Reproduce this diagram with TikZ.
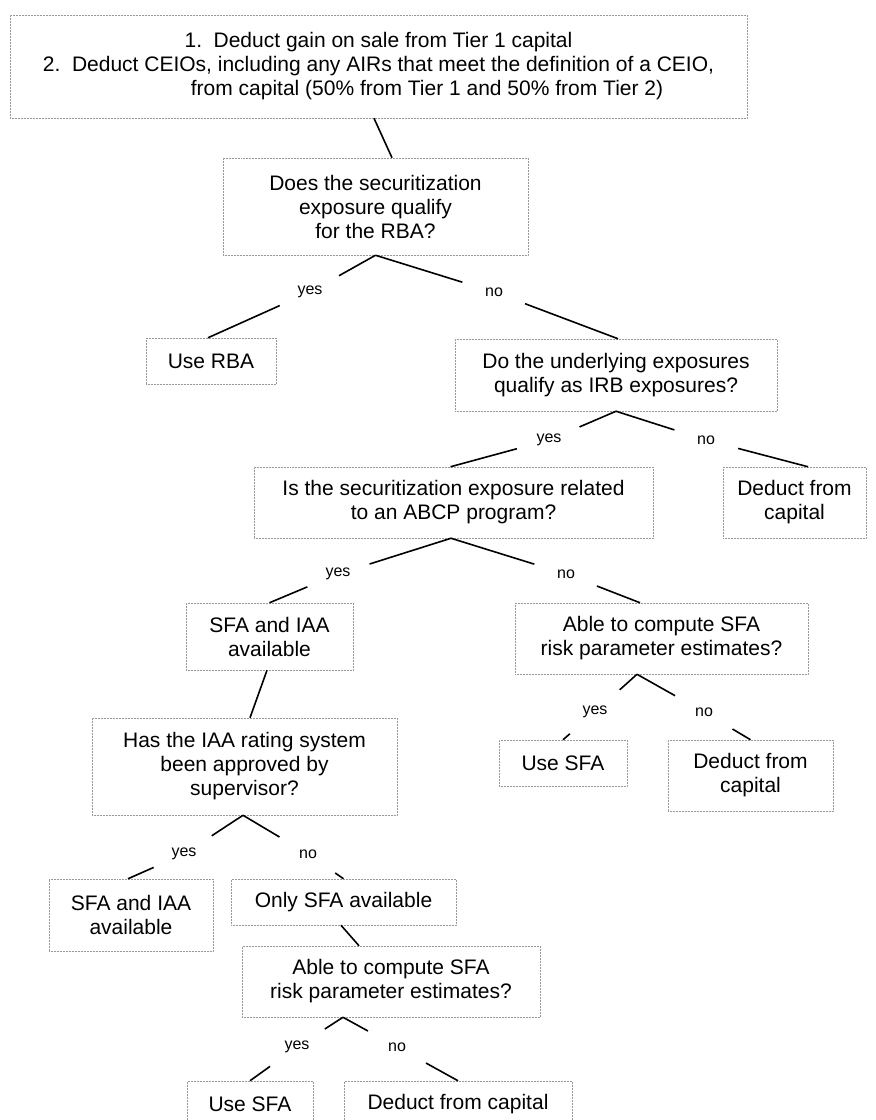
\documentclass[tikz,border=0pt]{standalone}
\usepackage{fontspec}
\setmainfont{Liberation Sans}
\usepackage{xcolor}

\begin{document}
\begin{tikzpicture}[x=1pt,y=-1pt,
	box/.style={draw=gray!80, densely dotted, line width=0.5pt, align=center, inner sep=0pt, font=\fontsize{21}{24}\selectfont},
	ans/.style={circle, minimum size=66pt, inner sep=0pt, font=\fontsize{16}{18}\selectfont},
	link/.style={line width=1.6pt}]
	\useasboundingbox (0,0) rectangle (876,1120);
	
	% boxes
	\node[box, minimum width=737pt, minimum height=103pt] (A) at (378.5,66.5) {1.\hspace{0.55em}Deduct gain on sale from Tier 1 capital\\ 2.\hspace{0.55em}Deduct CEIOs, including any AIRs that meet the definition of a CEIO,\\ \hspace*{97pt}from capital (50\% from Tier 1 and 50\% from Tier 2)};
	\node[box, minimum width=305pt, minimum height=97pt] (B) at (375.5,206.5) {Does the securitization\\ exposure qualify\\ for the RBA?};
	\node[box, minimum width=130pt, minimum height=46pt] (C) at (211,361) {Use RBA};
	\node[box, minimum width=322pt, minimum height=72pt] (D) at (616,375) {Do the underlying exposures\\ qualify as IRB exposures?};
	\node[box, minimum width=399pt, minimum height=71pt] (E) at (453.5,502.5) {Is the securitization exposure related\\ to an ABCP program?};
	\node[box, minimum width=143pt, minimum height=71pt] (F) at (794.5,502.5) {Deduct from\\ capital};
	\node[box, minimum width=167pt, minimum height=67pt] (G) at (269.5,636.5) {SFA and IAA\\ available};
	\node[box, minimum width=293pt, minimum height=71pt] (H) at (661.5,638.5) {Able to compute SFA\\ risk parameter estimates?};
	\node[box, minimum width=128pt, minimum height=46pt] (I) at (563,763) {Use SFA};
	\node[box, minimum width=165pt, minimum height=71pt] (J) at (750.5,775.5) {Deduct from\\ capital};
	\node[box, minimum width=305pt, minimum height=97pt] (K) at (244.5,766.5) {Has the IAA rating system\\ been approved by\\ supervisor?};
	\node[box, minimum width=164pt, minimum height=72pt] (L) at (131,915) {SFA and IAA\\ available};
	\node[box, minimum width=225pt, minimum height=46pt] (M) at (343.5,902) {Only SFA available};
	\node[box, minimum width=298pt, minimum height=71pt] (N) at (391,981.5) {Able to compute SFA\\ risk parameter estimates?};
	\node[box, minimum width=126pt, minimum height=46pt] (O) at (250,1104) {Use SFA};
	\node[box, minimum width=228pt, minimum height=46pt] (P) at (458,1104) {Deduct from capital};
	
	% answers
	\node[ans] (Y1) at (310,292) {yes};
	\node[ans] (N1) at (494,292) {no};
	\node[ans] (Y2) at (549,440) {yes};
	\node[ans] (N2) at (706,440) {no};
	\node[ans] (Y3) at (338,574) {yes};
	\node[ans] (N3) at (566,574) {no};
	\node[ans] (Y4) at (595,712) {yes};
	\node[ans] (N4) at (704,712) {no};
	\node[ans] (Y5) at (184,854) {yes};
	\node[ans] (N5) at (308,854) {no};
	\node[ans] (Y6) at (297,1047) {yes};
	\node[ans] (N6) at (397,1047) {no};
	
	\draw[link] ([xshift=-4.5pt]A.south) -- ([xshift=16.5pt]B.north);
	\draw[link] (B.south) -- (Y1) -- ([xshift=-3pt]C.north);
	\draw[link] (B.south) -- (N1) -- ([xshift=2pt]D.north);
	\draw[link] (D.south) -- (Y2) -- ([xshift=-3pt]E.north);
	\draw[link] (D.south) -- (N2) -- ([xshift=13.5pt]F.north);
	\draw[link] ([xshift=-2.5pt]E.south) -- (Y3) -- (G.north);
	\draw[link] ([xshift=-2.5pt]E.south) -- (N3) -- ([xshift=-21.5pt]H.north);
	\draw[link] ([xshift=-24.5pt]H.south) -- (Y4) -- (I.north);
	\draw[link] ([xshift=-24.5pt]H.south) -- (N4) -- (J.north);
	\draw[link] ([xshift=-2.5pt]G.south) -- ([xshift=5.5pt]K.north);
	\draw[link] ([xshift=-1.5pt]K.south) -- (Y5) -- ([xshift=-3pt]L.north);
	\draw[link] ([xshift=-1.5pt]K.south) -- (N5) -- (M.north);
	\draw[link] ([xshift=-2.5pt]M.south) -- ([xshift=-32pt]N.north);
	\draw[link] ([xshift=-48pt]N.south) -- (Y6) -- (O.north);
	\draw[link] ([xshift=-48pt]N.south) -- (N6) -- (P.north);
\end{tikzpicture}
\end{document}
